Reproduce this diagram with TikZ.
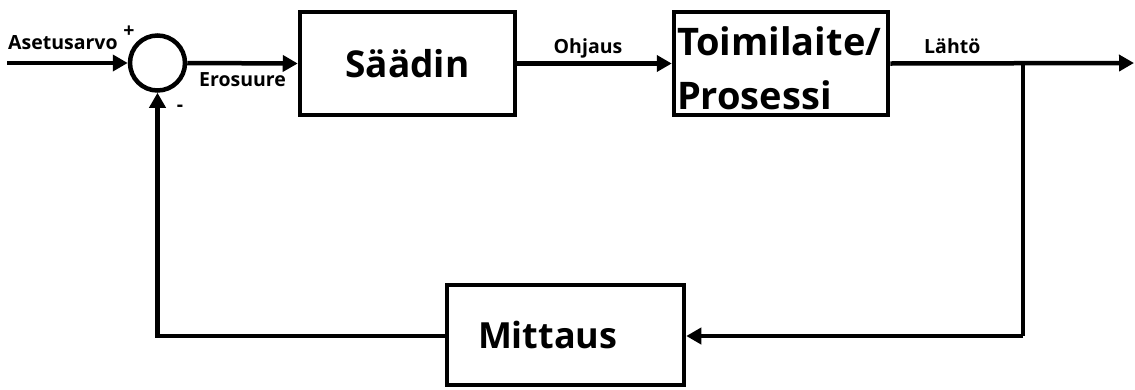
\documentclass[tikz,border=0pt]{standalone}
\usepackage{fontspec}
\setmainfont{Open Sans}
\usetikzlibrary{arrows.meta}
\tikzset{
  blk/.style={draw, line width=4.5pt, rectangle, inner sep=0pt, font=\bfseries\fontsize{37}{55}\selectfont},
  sumc/.style={draw, line width=4.5pt, circle, minimum size=55pt, inner sep=0pt},
  wire/.style={line width=4.5pt, -{Triangle[length=15pt,width=16pt]}},
  plain/.style={line width=4.5pt},
  lbl/.style={font=\bfseries\fontsize{19.5}{22}\selectfont, inner sep=0pt},
}
\begin{document}
\begin{tikzpicture}[x=1pt,y=-1pt]
\useasboundingbox (0,0) rectangle (1135,389);
\node[sumc] (s) at (157.5,63) {};
\node[blk, minimum width=215pt, minimum height=103pt] (c) at (407.5,63.5) {Säädin};
\node[blk, minimum width=214pt, minimum height=103pt, align=left, text width=208pt, text height=43pt, text depth=60pt, font=\bfseries\fontsize{38}{54}\selectfont] (p) at (781,63.5) {Toimilaite/\\Prosessi};
\node[blk, minimum width=237pt, minimum height=100pt, align=left, text width=175pt, font=\bfseries\fontsize{36}{44}\selectfont] (m) at (565.5,335) {Mittaus};
\coordinate (in) at (7,63);
\coordinate (out) at (1134,63);
\coordinate (br) at (1023,63);
\coordinate (brd) at (1023,336);
\draw[wire] (in) -- (s.west);
\draw[wire] (s.east) -- (c.west);
\draw[wire] (c.east) -- (p.west);
\draw[wire] (p.east) -- (out);
\draw[plain] (br) -- (brd);
\draw[wire] (brd) -- (m.east |- brd);
\draw[wire] (m.west |- brd) -| (s.south);
\node[lbl, anchor=base west] (t1) at (8,49) {Asetusarvo};
\node[lbl, anchor=base] (t2) at (129,37) {+};
\node[lbl, anchor=base] (t3) at (180,111) {-};
\node[lbl, anchor=base west] (t4) at (199,86) {Erosuure};
\node[lbl, anchor=base] (t5) at (588,53) {Ohjaus};
\node[lbl, anchor=base west] (t6) at (924,53) {Lähtö};
\end{tikzpicture}
\end{document}
